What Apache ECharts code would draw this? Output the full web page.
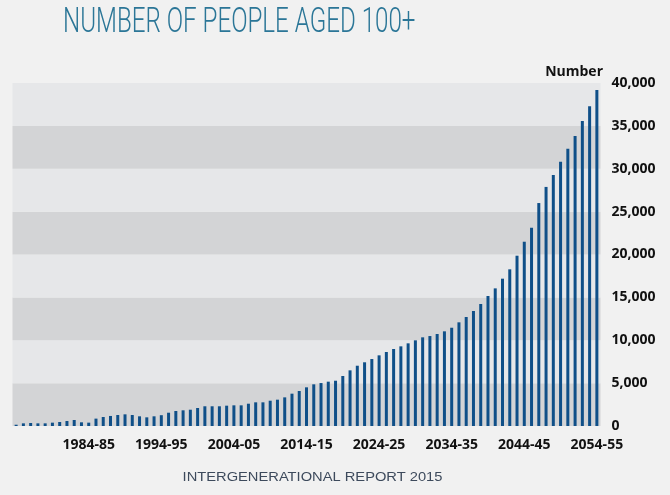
<!DOCTYPE html>
<html><head><meta charset="utf-8">
<script src="https://cdn.jsdelivr.net/npm/echarts@6/dist/echarts.min.js"></script>
<style>html,body{margin:0;padding:0;background:#f1f1f1;}#c{width:670px;height:495px;}</style>
</head><body><div id="c"></div>
<script>
var startYear = 1974, endYear = 2054;
var categories = [];
for (var y = startYear; y <= endYear; y++) {
  categories.push(y + '-' + String((y + 1) % 100).padStart(2, '0'));
}
var centenarians = [
  150, 310, 350, 310, 310, 390, 470, 580, 700, 430,
  390, 860, 1050, 1170, 1280, 1360, 1280, 1130, 1010, 1130,
  1260, 1550, 1750, 1830, 1900, 2100, 2300, 2300, 2300, 2370,
  2410, 2410, 2600, 2760, 2760, 2950, 3070, 3340, 3770, 4080,
  4510, 4860, 5010, 5170, 5280, 5830, 6490, 7030, 7430, 7810,
  8240, 8630, 8980, 9290, 9640, 9990, 10340, 10490, 10730, 11040,
  11460, 12090, 12710, 13410, 14230, 15160, 16050, 17180, 18270, 19860,
  21490, 23120, 26000, 27880, 29270, 30820, 32340, 33820, 35570, 37280,
  39180
];
var yTicks = { min: 0, max: 40000, interval: 5000 };

var chart = echarts.init(document.getElementById('c'));
chart.setOption({
  backgroundColor: '#f1f1f1',
  animation: false,
  grid: { left: 12.5, right: 69.5, top: 83, bottom: 69 },
  graphic: [
    { type: 'text', x: 63, y: 6, scaleX: 0.69,
      style: { text: 'NUMBER OF PEOPLE AGED 100+', fill: '#2b7697',
               font: '300 35px Roboto', textVerticalAlign: 'top' } },
    { type: 'text', x: 603, y: 72,
      style: { text: 'Number', fill: '#111', font: 'bold 14px "Open Sans"',
               textAlign: 'right', textVerticalAlign: 'middle' } },
    { type: 'text', x: 312.5, y: 477, scaleX: 1.13,
      style: { text: 'INTERGENERATIONAL REPORT 2015', fill: '#3d4a5c',
               font: '13px "Liberation Sans"', textAlign: 'center', textVerticalAlign: 'middle' } }
  ],
  xAxis: {
    type: 'category',
    data: categories,
    axisLine: { show: false },
    axisTick: { show: false },
    axisLabel: {
      interval: function (i) { return i > 0 && i % 10 === 0; },
      color: '#111', fontFamily: 'Open Sans', fontWeight: 'bold', fontSize: 14, margin: 12
    }
  },
  yAxis: {
    type: 'value',
    position: 'right',
    min: yTicks.min, max: yTicks.max, interval: yTicks.interval,
    axisLine: { show: false },
    axisTick: { show: false },
    splitLine: { show: false },
    splitArea: { show: true, areaStyle: { color: ['#d3d4d6', '#e6e7e9'] } },
    axisLabel: {
      color: '#111', fontFamily: 'Open Sans', fontWeight: 'bold', fontSize: 14, margin: 11,
      formatter: function (v) { return v.toLocaleString('en-US'); }
    }
  },
  series: [{
    type: 'bar',
    data: centenarians,
    barWidth: 3,
    itemStyle: { color: '#0f4f88' }
  }]
});
</script></body></html>
